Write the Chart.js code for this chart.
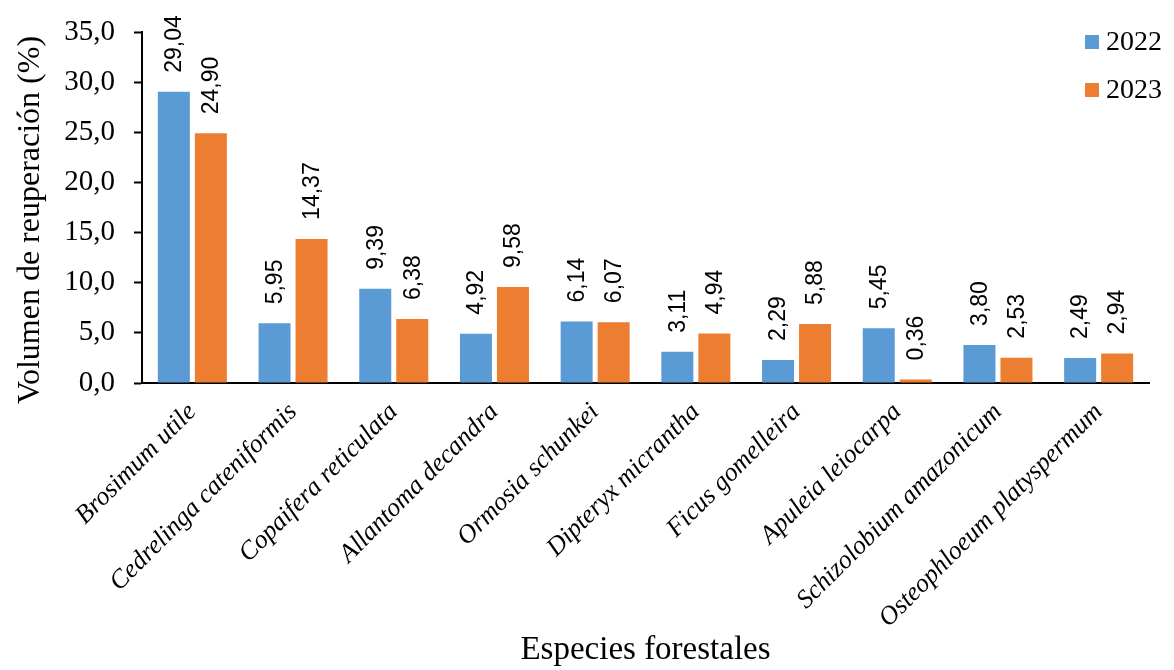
<!DOCTYPE html>
<html lang="es">
<head>
<meta charset="utf-8">
<title>Volumen de recuperación por especie</title>
<script src="https://cdn.jsdelivr.net/npm/chart.js@4"></script>
<style>
  html, body { margin: 0; padding: 0; background: #ffffff; }
  #wrap { width: 1174px; height: 670px; }
</style>
</head>
<body>
<div id="wrap"><canvas id="chart" width="1174" height="670"></canvas></div>
<script>
// Forest species and recovery volume (%) per year
const species = [
  'Brosimum utile',
  'Cedrelinga cateniformis',
  'Copaifera reticulata',
  'Allantoma decandra',
  'Ormosia schunkei',
  'Dipteryx micrantha',
  'Ficus gomelleira',
  'Apuleia leiocarpa',
  'Schizolobium amazonicum',
  'Osteophloeum platyspermum'
];
const years = ['2022', '2023'];
const values2022 = [29.04, 5.95, 9.39, 4.92, 6.14, 3.11, 2.29, 5.45, 3.80, 2.49];
const values2023 = [24.90, 14.37, 6.38, 9.58, 6.07, 4.94, 5.88, 0.36, 2.53, 2.94];
const yTicks = [0, 5, 10, 15, 20, 25, 30, 35];
const yTitle = 'Volumen de reuperación (%)';
const xTitle = 'Especies forestales';

const BLUE = '#5B9BD5';
const ORANGE = '#ED7D31';
const SERIF = "'Liberation Serif', 'Times New Roman', serif";
const SANS = "'Liberation Sans', Arial, sans-serif";

const comma = (v, d) => v.toFixed(d).replace('.', ',');

// Vertical value labels above each bar
const barValueLabels = {
  id: 'barValueLabels',
  afterDatasetsDraw(chart) {
    const ctx = chart.ctx;
    ctx.save();
    ctx.font = '23px ' + SANS;
    ctx.fillStyle = '#000000';
    ctx.textAlign = 'left';
    ctx.textBaseline = 'middle';
    chart.data.datasets.forEach((ds, di) => {
      const meta = chart.getDatasetMeta(di);
      meta.data.forEach((bar, i) => {
        ctx.save();
        ctx.translate(bar.x + 1, bar.y - 19);
        ctx.rotate(-Math.PI / 2);
        ctx.fillText(comma(ds.data[i], 2), 0, 0);
        ctx.restore();
      });
    });
    ctx.restore();
  }
};

// Legend as a vertical list in the upper right corner, plus the rotated value-axis title
const chartDecorations = {
  id: 'chartDecorations',
  afterDraw(chart) {
    const ctx = chart.ctx;
    ctx.save();
    ctx.font = '28px ' + SERIF;
    ctx.textBaseline = 'middle';
    ctx.textAlign = 'left';
    chart.data.datasets.forEach((ds, i) => {
      const cy = 42 + i * 48;
      ctx.fillStyle = ds.backgroundColor;
      ctx.fillRect(1085, cy - 7, 14, 14);
      ctx.fillStyle = '#000000';
      ctx.fillText(ds.label, 1106, cy + 1);
    });

    ctx.font = '32px ' + SERIF;
    ctx.textAlign = 'center';
    ctx.textBaseline = 'middle';
    ctx.translate(31, 220);
    ctx.rotate(-Math.PI / 2);
    ctx.fillText(yTitle, 0, 0);
    ctx.restore();
  }
};

new Chart(document.getElementById('chart'), {
  type: 'bar',
  data: {
    labels: species,
    datasets: [
      { label: years[0], data: values2022, backgroundColor: BLUE },
      { label: years[1], data: values2023, backgroundColor: ORANGE }
    ]
  },
  options: {
    responsive: false,
    devicePixelRatio: 1,
    animation: false,
    layout: { padding: { top: 32, right: 25, bottom: 0, left: 0 } },
    datasets: {
      bar: { categoryPercentage: 0.735, barPercentage: 0.865 }
    },
    plugins: {
      legend: { display: false },
      tooltip: { enabled: false }
    },
    scales: {
      x: {
        grid: { display: false },
        border: { display: true, color: '#000000', width: 2 },
        ticks: {
          color: '#000000',
          font: { family: SERIF, size: 26, style: 'italic' },
          minRotation: 45,
          maxRotation: 45,
          padding: 6
        },
        title: {
          display: true,
          text: xTitle,
          color: '#000000',
          font: { family: SERIF, size: 33 },
          padding: { top: 0, bottom: 0 }
        },
        afterFit(scale) { scale.height = 287; }
      },
      y: {
        min: 0,
        max: 35,
        afterBuildTicks(scale) {
          scale.ticks = yTicks.map(v => ({ value: v }));
        },
        grid: {
          display: true,
          drawOnChartArea: false,
          drawTicks: true,
          tickLength: 8,
          tickWidth: 2,
          tickColor: '#000000'
        },
        border: { display: true, color: '#000000', width: 2 },
        ticks: {
          color: '#000000',
          font: { family: SERIF, size: 29 },
          padding: 19,
          callback: (v) => comma(v, 1)
        },
        title: { display: false },
        afterFit(scale) {
          scale.width = 142;
          scale.paddingTop = 0;
          scale.paddingBottom = 0;
        }
      }
    }
  },
  plugins: [barValueLabels, chartDecorations]
});
</script>
</body>
</html>
